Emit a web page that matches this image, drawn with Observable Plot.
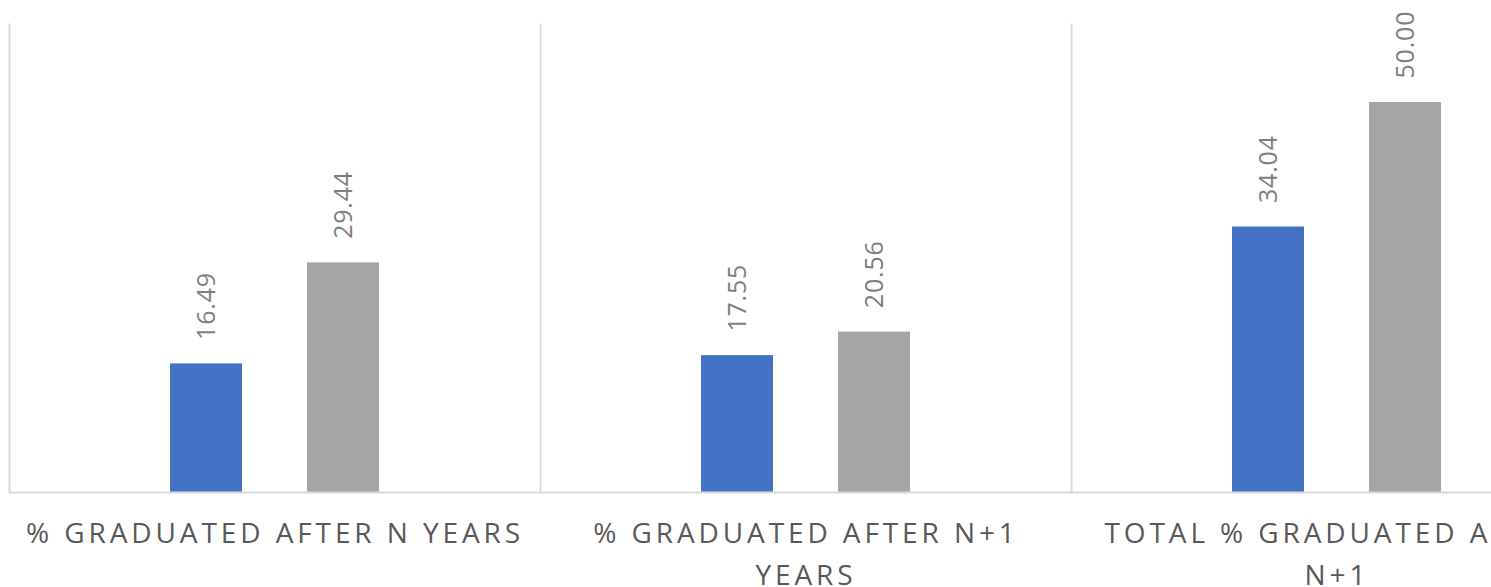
<!DOCTYPE html>
<html>
<head>
<meta charset="utf-8">
<script src="https://cdn.jsdelivr.net/npm/d3@7"></script>
<script src="https://cdn.jsdelivr.net/npm/@observablehq/plot@0.6"></script>
<style>
  html, body { margin: 0; padding: 0; background: #fff; overflow: hidden; }
  #chart { width: 1491px; height: 587px; overflow: hidden; }
  #chart svg { font-family: "Open Sans", sans-serif; display: block; max-width: none !important; width: 1612px !important; height: 587px !important; }
  #chart g[aria-label="fx-axis tick label"] text { letter-spacing: 3.9px; }
  #chart g[aria-label="text"] text { letter-spacing: 0.8px; }
</style>
</head>
<body>
<div id="chart"></div>
<script>
const categories = [
  "% GRADUATED AFTER N YEARS",
  "% GRADUATED AFTER N+1 YEARS",
  "TOTAL % GRADUATED AFTER N+1"
];
const tickLabels = [
  "% GRADUATED AFTER N YEARS",
  "% GRADUATED AFTER N+1\nYEARS",
  "TOTAL % GRADUATED AFTER\nN+1"
];
const seriesNames = ["Series A", "Series B"];
const seriesA = [16.49, 17.55, 34.04];
const seriesB = [29.44, 20.56, 50.00];
const colors = ["#4472C4", "#A5A5A5"];

const data = [];
categories.forEach((c, i) => {
  data.push({category: c, series: seriesNames[0], value: seriesA[i]});
  data.push({category: c, series: seriesNames[1], value: seriesB[i]});
});

const chart = Plot.plot({
  width: 1612,
  height: 587,
  marginLeft: 9,
  marginRight: 10,
  marginTop: 24,
  marginBottom: 95,
  style: {color: "#595959", background: "#fff"},
  fx: {domain: categories, padding: 0, axis: null},
  x: {domain: seriesNames, paddingInner: 0.478, paddingOuter: 1.163, axis: null},
  y: {domain: [0, 60], axis: null},
  color: {domain: seriesNames, range: colors},
  marks: [
    Plot.frame({anchor: "left", stroke: "#d9d9d9", strokeWidth: 2}),
    Plot.barY(data, {fx: "category", x: "series", y: "value", fill: "series"}),
    Plot.ruleY([0], {stroke: "#d9d9d9", strokeWidth: 2}),
    Plot.text(data, {
      fx: "category", x: "series", y: "value",
      text: d => d3.format(".2f")(d.value),
      rotate: -90, textAnchor: "start", lineAnchor: "middle",
      dy: -24, fontSize: 25, fill: "#7f7f7f"
    }),
    Plot.axisFx({
      anchor: "bottom", tickSize: 0, tickPadding: 21, fontSize: 28,
      lineHeight: 1.5, label: null,
      tickFormat: d => tickLabels[categories.indexOf(d)]
    })
  ]
});
document.getElementById("chart").appendChild(chart);
</script>
</body>
</html>
